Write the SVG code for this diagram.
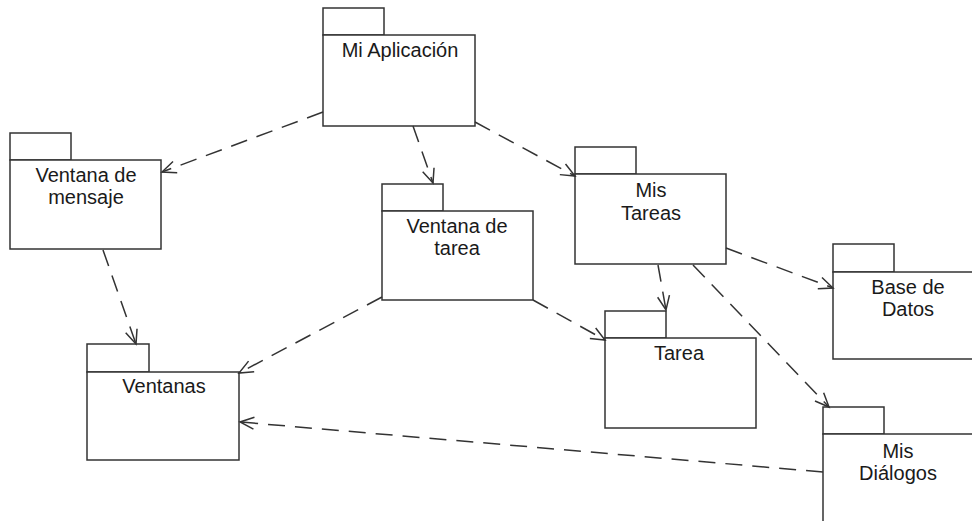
<svg xmlns="http://www.w3.org/2000/svg" width="972" height="521" viewBox="0 0 972 521">
  <style>
    .pkg rect { fill: #ffffff; stroke: #333333; stroke-width: 1.5; }
    .pkg text { font-family: "Liberation Sans", Arial, sans-serif; font-size: 20px; fill: #1a1a1a; text-anchor: middle; }
    .dep { fill: none; stroke: #333333; stroke-width: 1.5; stroke-dasharray: 17 10; marker-end: url(#open); }
  </style>
  <defs>
    <marker id="open" markerUnits="userSpaceOnUse" markerWidth="20" markerHeight="16" refX="15" refY="7" orient="auto" overflow="visible">
      <path d="M1,1 L15,7 L1,13" fill="none" stroke="#333333" stroke-width="1.5" stroke-dasharray="none"/>
    </marker>
  </defs>
  <rect width="972" height="521" fill="#ffffff"/>

  <!-- packages -->
  <g id="mi-aplicacion" class="pkg">
    <rect x="323" y="8" width="61" height="27"/>
    <rect x="323" y="35" width="152" height="91"/>
    <text x="400" y="57">Mi Aplicación</text>
  </g>
  <g id="ventana-de-mensaje" class="pkg">
    <rect x="10" y="133" width="61" height="27"/>
    <rect x="10" y="160" width="151" height="89"/>
    <text x="86" y="182">Ventana de</text>
    <text x="86" y="204">mensaje</text>
  </g>
  <g id="ventana-de-tarea" class="pkg">
    <rect x="382" y="184" width="61" height="27"/>
    <rect x="382" y="211" width="151" height="89"/>
    <text x="457" y="233">Ventana de</text>
    <text x="457" y="255">tarea</text>
  </g>
  <g id="mis-tareas" class="pkg">
    <rect x="575" y="147" width="61" height="27"/>
    <rect x="575" y="174" width="151" height="90"/>
    <text x="651" y="197">Mis</text>
    <text x="651" y="220">Tareas</text>
  </g>
  <g id="base-de-datos" class="pkg">
    <rect x="833" y="244" width="61" height="28"/>
    <rect x="833" y="272" width="151" height="87"/>
    <text x="908" y="294">Base de</text>
    <text x="908" y="316">Datos</text>
  </g>
  <g id="ventanas" class="pkg">
    <rect x="87" y="344" width="62" height="28"/>
    <rect x="87" y="372" width="152" height="88"/>
    <text x="164" y="393">Ventanas</text>
  </g>
  <g id="tarea" class="pkg">
    <rect x="605" y="311" width="61" height="27"/>
    <rect x="605" y="338" width="151" height="90"/>
    <text x="679" y="360">Tarea</text>
  </g>
  <g id="mis-dialogos" class="pkg">
    <rect x="823" y="407" width="61" height="27"/>
    <rect x="823" y="434" width="151" height="100"/>
    <text x="898" y="458">Mis</text>
    <text x="898" y="480">Diálogos</text>
  </g>

  <!-- dependencies -->
  <g id="connectors">
    <line class="dep" x1="323" y1="112" x2="162" y2="172"/>
    <line class="dep" x1="413" y1="126" x2="433" y2="183"/>
    <line class="dep" x1="475" y1="122" x2="575" y2="176"/>
    <line class="dep" x1="103" y1="250" x2="136" y2="344"/>
    <line class="dep" x1="382" y1="297" x2="239" y2="373"/>
    <line class="dep" x1="533" y1="300" x2="605" y2="340"/>
    <line class="dep" x1="658" y1="265" x2="666" y2="310"/>
    <line class="dep" x1="726" y1="248" x2="833" y2="288"/>
    <line class="dep" x1="693" y1="265" x2="829" y2="407"/>
    <line class="dep" x1="823" y1="472" x2="240" y2="422"/>
  </g>
</svg>
